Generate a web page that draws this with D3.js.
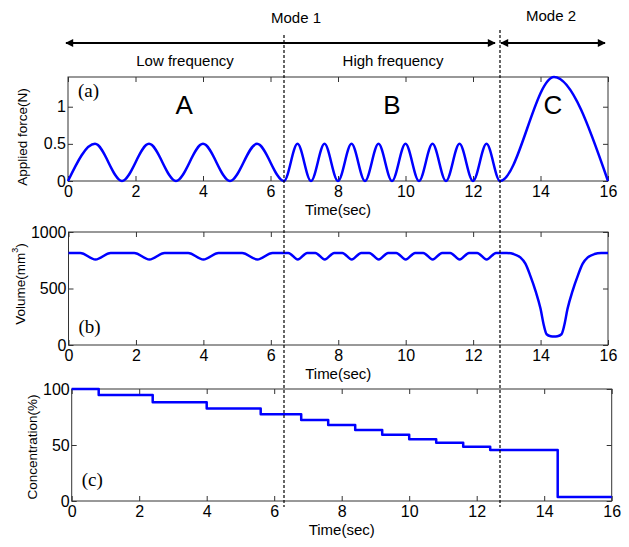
<!DOCTYPE html>
<html>
<head>
<meta charset="utf-8">
<script src="https://cdn.jsdelivr.net/npm/d3@7"></script>
<style>
  body { margin: 0; background: #fff; }
  text { font-family: Arial, "Liberation Sans", Helvetica, sans-serif; }
</style>
</head>
<body>
<div id="chart"></div>
<script>
// ---- data ----
// applied force: peaks and troughs (N)
const forceTime = [0, 0.8, 1.6, 2.4, 3.2, 4.0, 4.8, 5.6, 6.4,
    6.8, 7.2, 7.6, 8.0, 8.4, 8.8, 9.2, 9.6, 10.0, 10.4, 10.8, 11.2, 11.6, 12.0, 12.4, 12.8,
    14.4, 16];
const forceValue = [0, 0.5, 0, 0.5, 0, 0.5, 0, 0.5, 0,
    0.5, 0, 0.5, 0, 0.5, 0, 0.5, 0, 0.5, 0, 0.5, 0, 0.5, 0, 0.5, 0,
    1.4, 0];

// volume (mm^3)
const volTime = [0, 0.35, 0.8, 1.25, 1.95, 2.4, 2.85, 3.55, 4.0, 4.45, 5.15, 5.6, 6.05,
    6.52, 6.8, 7.08, 7.32, 7.6, 7.88, 8.12, 8.4, 8.68, 8.92, 9.2, 9.48, 9.72, 10.0, 10.28,
    10.52, 10.8, 11.08, 11.32, 11.6, 11.88, 12.12, 12.4, 12.68,
    12.8, 13.0, 13.2, 13.4, 13.55, 13.7, 13.85, 14.0, 14.1, 14.18, 14.3, 14.4,
    14.5, 14.62, 14.7, 14.8, 14.95, 15.1, 15.25, 15.4, 15.6, 15.8, 16];
const volValue = [815, 815, 757, 815, 815, 757, 815, 815, 757, 815, 815, 757, 815,
    815, 757, 815, 815, 757, 815, 815, 757, 815, 815, 757, 815, 815, 757, 815,
    815, 757, 815, 815, 757, 815, 815, 757, 815,
    815, 814, 805, 775, 720, 610, 480, 320, 170, 95, 78, 75,
    78, 95, 170, 320, 480, 610, 720, 775, 805, 814, 815];

// concentration (%), step changes
const concTime = [0, 0.8, 2.4, 4.0, 5.6, 6.8, 7.6, 8.4, 9.2, 10.0, 10.8, 11.6, 12.4, 14.4, 16];
const concValue = [100, 94.6, 88.1, 82.7, 77.4, 72.3, 67.9, 63.4, 59.2, 55.1, 52.1, 48.5, 45.5, 3.6, 3.6];

// ticks
const timeTicks = [0, 2, 4, 6, 8, 10, 12, 14, 16];
const forceTicks = [0, 0.5, 1];
const volTicks = [0, 500, 1000];
const concTicks = [0, 50, 100];

// mode boundaries (sec)
const modeBounds = [6.4, 12.8];

// ---- layout ----
const width = 629, height = 547;
const svg = d3.select("#chart").append("svg")
    .attr("width", width)
    .attr("height", height);

const panels = [
    {t: forceTime, v: forceValue, ticks: forceTicks, domain: [0, 1.4], curve: d3.curveMonotoneX,
     left: 68, right: 608, top: 77, bottom: 181,
     ylabel: "Applied force(N)", ylx: 22, yly: 137, tag: "(a)", tagY: 97},
    {t: volTime, v: volValue, ticks: volTicks, domain: [0, 1000], curve: d3.curveMonotoneX,
     left: 68.5, right: 608, top: 232, bottom: 345,
     ylabel: "Volume(mm", ylx: 20, yly: 284, tag: "(b)", tagY: 333},
    {t: concTime, v: concValue, ticks: concTicks, domain: [0, 100], curve: d3.curveStepAfter,
     left: 71.7, right: 611.7, top: 389, bottom: 501,
     ylabel: "Concentration(%)", ylx: 32, yly: 447, tag: "(c)", tagY: 486}
];

const axisColor = "#333";
let xTop;

panels.forEach((p, i) => {
    const x = d3.scaleLinear().domain([0, 16]).range([p.left, p.right]);
    const y = d3.scaleLinear().domain(p.domain).range([p.bottom, p.top]);
    if (i === 0) xTop = x;

    const g = svg.append("g");

    // box
    g.append("rect")
        .attr("x", p.left).attr("y", p.top)
        .attr("width", p.right - p.left).attr("height", p.bottom - p.top)
        .attr("fill", "none").attr("stroke", axisColor).attr("stroke-width", 1);

    const styleAxis = (sel) => {
        sel.select(".domain").remove();
        sel.selectAll("line").attr("stroke", axisColor);
        sel.attr("font-size", 16);
        sel.selectAll("text").attr("fill", "#000");
    };

    g.append("g").attr("transform", `translate(0,${p.bottom})`)
        .call(d3.axisBottom(x).tickValues(timeTicks).tickSize(-5).tickPadding(5).tickFormat(d3.format("d")))
        .call(styleAxis);
    g.append("g").attr("transform", `translate(0,${p.top})`)
        .call(d3.axisTop(x).tickValues(timeTicks).tickSize(-5).tickFormat(""))
        .call(styleAxis);
    g.append("g").attr("transform", `translate(${p.left},0)`)
        .call(d3.axisLeft(y).tickValues(p.ticks).tickSize(-5).tickPadding(2).tickFormat(d => String(d)))
        .call(styleAxis);
    g.append("g").attr("transform", `translate(${p.right},0)`)
        .call(d3.axisRight(y).tickValues(p.ticks).tickSize(-5).tickFormat(""))
        .call(styleAxis);

    // curve
    const line = d3.line()
        .x(d => x(d[0]))
        .y(d => y(d[1]))
        .curve(p.curve);
    g.append("path")
        .datum(d3.zip(p.t, p.v))
        .attr("d", line)
        .attr("fill", "none")
        .attr("stroke", "#0000ff")
        .attr("stroke-width", 2.5)
        .attr("stroke-linejoin", "round");

    // x label
    g.append("text")
        .attr("x", x(8)).attr("y", p.bottom + 33.5)
        .attr("text-anchor", "middle")
        .attr("font-size", 15)
        .text("Time(sec)");

    // y label
    const yl = g.append("text")
        .attr("transform", `translate(${p.ylx},${p.yly}) rotate(-90)`)
        .attr("text-anchor", "middle")
        .attr("dominant-baseline", "central")
        .attr("font-size", 13.5)
        .text(p.ylabel);
    if (i === 1) {
        yl.append("tspan").attr("baseline-shift", "super").attr("font-size", 9).text("3");
        yl.append("tspan").text(")");
    }

    // panel tag (serif)
    g.append("text")
        .attr("x", p.left + 10).attr("y", p.tagY)
        .style("font-family", "'Liberation Serif', 'Times New Roman', 'DejaVu Serif', serif")
        .attr("font-size", 19)
        .text(p.tag);
});

// big letters in panel (a)
[["A", 3.44], ["B", 9.6], ["C", 14.37]].forEach(([s, t]) => {
    svg.append("text")
        .attr("x", xTop(t)).attr("y", 114)
        .attr("text-anchor", "middle")
        .attr("font-size", 26)
        .text(s);
});

// mode boundaries
[[modeBounds[0], 35], [modeBounds[1], 30]].forEach(([t, y0]) => {
    svg.append("line")
        .attr("x1", xTop(t)).attr("x2", xTop(t))
        .attr("y1", y0).attr("y2", 507)
        .attr("stroke", "#000")
        .attr("stroke-width", 1.2)
        .attr("stroke-dasharray", "3,2");
});

// double arrows
const defs = svg.append("defs");
defs.append("marker")
    .attr("id", "head")
    .attr("viewBox", "0 0 10 10")
    .attr("refX", 9).attr("refY", 5)
    .attr("markerWidth", 9).attr("markerHeight", 8)
    .attr("markerUnits", "userSpaceOnUse")
    .attr("orient", "auto-start-reverse")
    .append("path").attr("d", "M0,0 L10,5 L0,10 z").attr("fill", "#000");

[[66, 495], [501, 605]].forEach(([a, b]) => {
    svg.append("line")
        .attr("x1", a).attr("x2", b)
        .attr("y1", 43).attr("y2", 43)
        .attr("stroke", "#000").attr("stroke-width", 2)
        .attr("marker-start", "url(#head)")
        .attr("marker-end", "url(#head)");
});

// annotations
[["Mode 1", 296, 23], ["Mode 2", 551, 21], ["Low frequency", 185, 66], ["High frequency", 393, 66]]
    .forEach(([s, x, y]) => {
        svg.append("text")
            .attr("x", x).attr("y", y)
            .attr("text-anchor", "middle")
            .attr("font-size", 15)
            .text(s);
    });
</script>
</body>
</html>
